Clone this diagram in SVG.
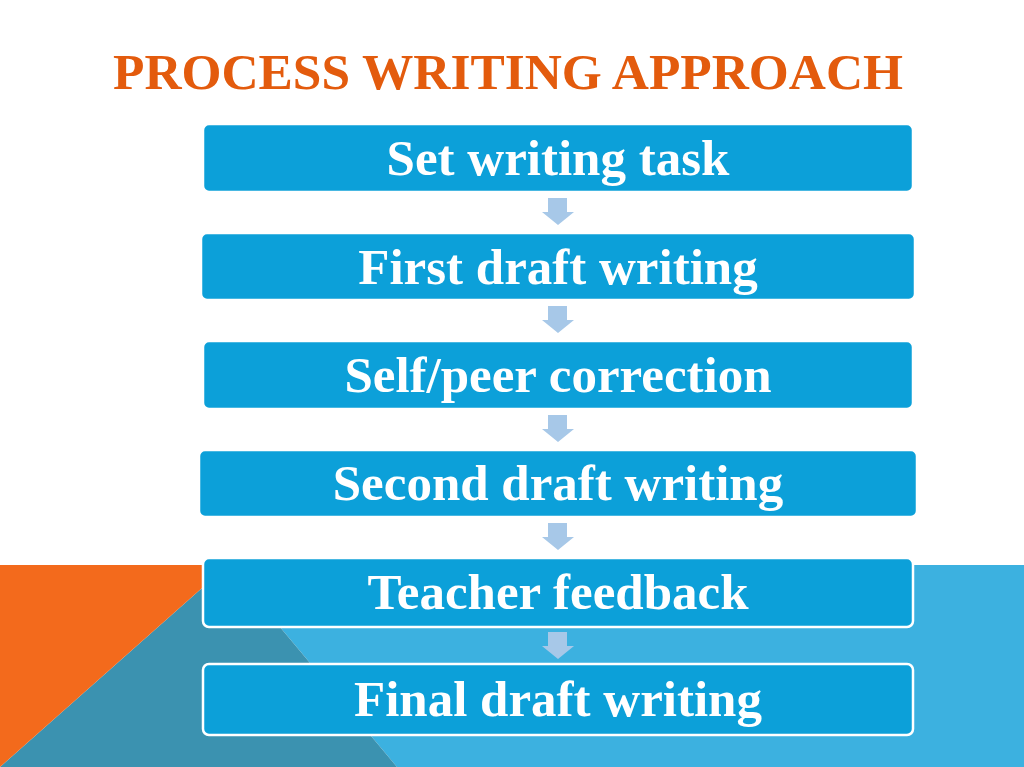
<svg xmlns="http://www.w3.org/2000/svg" width="1024" height="767" viewBox="0 0 1024 767">
<style>
.box{fill:#0ca0d9;stroke:#ffffff;stroke-width:2.5}
.lbl{font-family:"Liberation Serif","Times New Roman",serif;font-weight:bold;font-size:51px;fill:#ffffff;text-anchor:middle}
.arr{fill:#a7c8e8}
.title{font-family:"Liberation Serif","Times New Roman",serif;font-weight:bold;font-size:51px;fill:#e35b0d}
</style>
<defs>
<path id="dn" d="M-10,0 H9 V14 H16 L0,27 L-16,14 H-10 Z"/>
</defs>
<rect x="0" y="0" width="1024" height="767" fill="#ffffff"/>
<g id="background">
<polygon points="228,565 1024,565 1024,767 397,767" fill="#3cb1e0"/>
<polygon points="228,565 397,767 0,767" fill="#3b92b0"/>
<polygon points="0,565 228,565 0,767" fill="#f36a1c"/>
</g>
<text class="title" x="113" y="89" textLength="790" lengthAdjust="spacingAndGlyphs">PROCESS WRITING APPROACH</text>
<g id="connectors">
<use href="#dn" class="arr" x="558" y="198"/>
<use href="#dn" class="arr" x="558" y="306"/>
<use href="#dn" class="arr" x="558" y="415"/>
<use href="#dn" class="arr" x="558" y="523"/>
<use href="#dn" class="arr" x="558" y="632"/>
</g>
<g id="n1"><rect class="box" x="203" y="124" width="710" height="68" rx="6"/><text class="lbl" x="558" y="175">Set writing task</text></g>
<g id="n2"><rect class="box" x="201" y="233" width="714" height="67" rx="6"/><text class="lbl" x="558" y="284">First draft writing</text></g>
<g id="n3"><rect class="box" x="203" y="341" width="710" height="68" rx="6"/><text class="lbl" x="558" y="392">Self/peer correction</text></g>
<g id="n4"><rect class="box" x="199" y="450" width="718" height="67" rx="6"/><text class="lbl" x="558" y="500">Second draft writing</text></g>
<g id="n5"><rect class="box" x="203" y="558" width="710" height="69" rx="6"/><text class="lbl" x="558" y="609">Teacher feedback</text></g>
<g id="n6"><rect class="box" x="203" y="664" width="710" height="71" rx="6"/><text class="lbl" x="558" y="716">Final draft writing</text></g>
</svg>
